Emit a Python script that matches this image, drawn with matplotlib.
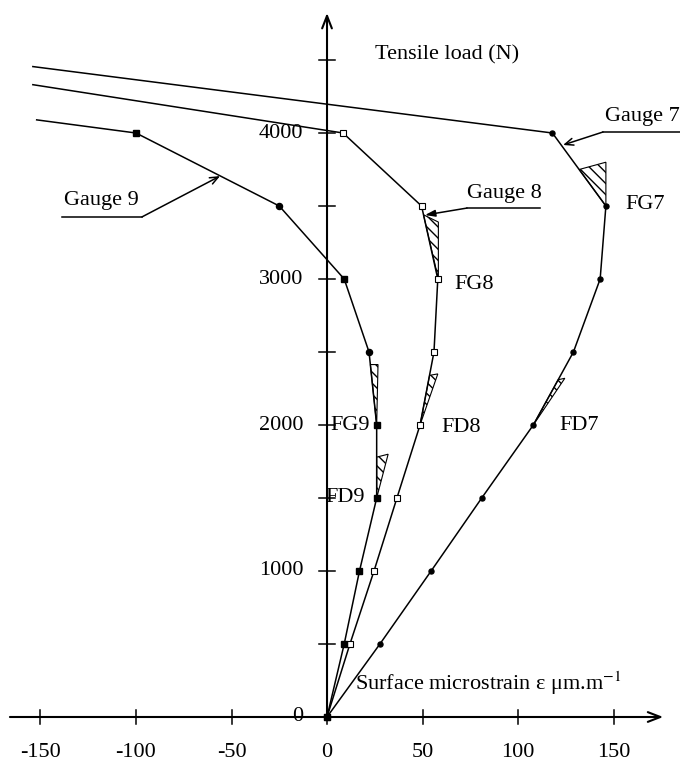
import matplotlib
matplotlib.use("Agg")
import matplotlib.pyplot as plt
from matplotlib.patches import Polygon

plt.rcParams['font.family'] = ['Liberation Serif', 'DejaVu Serif']
plt.rcParams['mathtext.fontset'] = 'stix'
plt.rcParams['hatch.linewidth'] = 1.0

# ---------------- data ----------------
loads = [0, 500, 1000, 1500, 2000, 2500, 3000, 3500, 4000]
gauge7 = [0, 27.7, 54.5, 81, 108, 129, 143, 146, 118]
gauge8 = [0, 12, 24.6, 36.6, 48.7, 56, 58, 49.5, 8.4]
gauge9 = [0, 9, 17, 26, 26, 22, 9, -25, -100]
gauge9_markers = ['s', 's', 's', 's', 's', 'o', 's', 'o', 's']
# continuation of each curve beyond the last reading (strain, load)
tail7 = (-154, 4455)
tail8 = (-154, 4331)
tail9 = (-152, 4090)

xticks = [-150, -100, -50, 0, 50, 100, 150]
yticks_major = [0, 1000, 2000, 3000, 4000]
yticks_minor = [500, 1500, 2500, 3500, 4500]

# hatched slope triangles (strain, load)
tri_FG7 = [(146, 3500), (146, 3800), (132, 3750)]
tri_FG8 = [(58.3, 3000), (58.3, 3390), (50.5, 3440)]
tri_FD8 = [(48.7, 2000), (53.7, 2340), (58, 2350)]
tri_FD7 = [(108, 2000), (121, 2310), (124.5, 2320)]
tri_FG9 = [(26, 2000), (26.7, 2414), (22.7, 2414)]
tri_FD9 = [(26, 1500), (26, 1780), (32, 1800)]

# ---------------- figure ----------------
fig = plt.figure(figsize=(6.8, 7.65), dpi=100)
ax = fig.add_axes([0, 0, 1, 1])
ax.set_xlim(-171.2, 184.8)
ax.set_ylim(-328.8, 4911)
ax.axis('off')

FS = 16
lw_axis = 1.5
lw_data = 1.1

# axes with arrows
ax.annotate('', xy=(176, 0), xytext=(-166, 0),
            arrowprops=dict(arrowstyle='->,head_length=0.9,head_width=0.35',
                            lw=lw_axis, color='black', shrinkA=0, shrinkB=0))
ax.annotate('', xy=(0, 4822), xytext=(0, 0),
            arrowprops=dict(arrowstyle='->,head_length=0.9,head_width=0.35',
                            lw=lw_axis, color='black', shrinkA=0, shrinkB=0))

# ticks
dy_tick = 7 / 0.146
dx_tick = 8 / 1.91
for xt in xticks:
    ax.plot([xt, xt], [-dy_tick, dy_tick], color='black', lw=1.1)
    ax.text(xt, -240, f"{xt}", ha='center', va='center', fontsize=FS)
for yt in yticks_major + yticks_minor:
    ax.plot([-dx_tick, dx_tick], [yt, yt], color='black', lw=1.1)
for yt in yticks_major:
    ax.text(-12.3, yt, f"{yt}", ha='right', va='center', fontsize=FS)

# data curves
ax.plot(gauge7 + [tail7[0]], loads + [tail7[1]], color='black', lw=lw_data)
ax.plot(gauge7, loads, ls='none', marker='o', ms=3.6, color='black')

ax.plot(gauge8 + [tail8[0]], loads + [tail8[1]], color='black', lw=lw_data)
ax.plot(gauge8, loads, ls='none', marker='s', ms=4.8, mfc='white',
        mec='black', mew=0.8)

ax.plot(gauge9 + [tail9[0]], loads + [tail9[1]], color='black', lw=lw_data)
for xv, yv, mk in zip(gauge9, loads, gauge9_markers):
    ax.plot([xv], [yv], ls='none', marker=mk, ms=4.8 if mk == 's' else 4.4,
            color='black')

# hatched triangles
for tri in [tri_FG7, tri_FG8, tri_FD8, tri_FD7, tri_FG9, tri_FD9]:
    ax.add_patch(Polygon(tri, closed=True, fill=False, hatch='\\\\\\',
                         edgecolor='black', lw=0.8))

# labels of triangles
ax.text(156, 3510, "FG7", ha='left', va='center', fontsize=FS)
ax.text(66.5, 2960, "FG8", ha='left', va='center', fontsize=FS)
ax.text(59.7, 1980, "FD8", ha='left', va='center', fontsize=FS)
ax.text(121.5, 2000, "FD7", ha='left', va='center', fontsize=FS)
ax.text(1.6, 2000, "FG9", ha='left', va='center', fontsize=FS)
ax.text(-1, 1500, "FD9", ha='left', va='center', fontsize=FS)

# axis titles
ax.text(25, 4534, "Tensile load (N)", ha='left', va='center', fontsize=FS)
ax.text(14.7, 233, "Surface microstrain ε μm.m$^{-1}$",
        ha='left', va='center', fontsize=FS)

# gauge callouts
ax.text(145.5, 4110, "Gauge 7", ha='left', va='center', fontsize=FS)
ax.plot([144.5, 190], [4007, 4007], color='black', lw=1.1)
ax.annotate('', xy=(123.6, 3918), xytext=(144.5, 4007),
            arrowprops=dict(arrowstyle='->,head_length=0.6,head_width=0.25',
                            lw=1.1, color='black', shrinkA=0, shrinkB=0))

ax.text(73.3, 3589, "Gauge 8", ha='left', va='center', fontsize=FS)
ax.plot([73.3, 111.5], [3486, 3486], color='black', lw=1.1)
ax.annotate('', xy=(51.3, 3438), xytext=(73.3, 3486),
            arrowprops=dict(arrowstyle='-|>,head_length=0.6,head_width=0.2',
                            lw=1.1, color='black', shrinkA=0, shrinkB=0))

ax.text(-137.7, 3541, "Gauge 9", ha='left', va='center', fontsize=FS)
ax.plot([-138.7, -96.9], [3425, 3425], color='black', lw=1.1)
ax.annotate('', xy=(-56, 3705), xytext=(-96.9, 3425),
            arrowprops=dict(arrowstyle='->,head_length=0.6,head_width=0.25',
                            lw=1.1, color='black', shrinkA=0, shrinkB=0))

fig.savefig("out.png", dpi=100)
